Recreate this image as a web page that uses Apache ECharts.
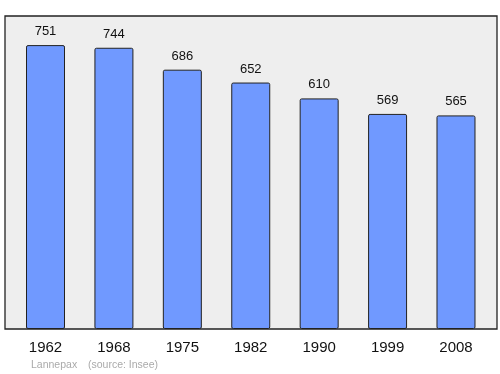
<!DOCTYPE html>
<html><head><meta charset="utf-8">
<script src="https://cdn.jsdelivr.net/npm/echarts@6/dist/echarts.min.js"></script>
<style>html,body{margin:0;padding:0;background:#fff}#c{width:500px;height:374px}</style>
</head><body><div id="c"></div>
<script>
var years = ['1962','1968','1975','1982','1990','1999','2008'];
var population = [751, 744, 686, 652, 610, 569, 565];
var footerPlace = 'Lannepax';
var footerSource = '(source: Insee)';

var chart = echarts.init(document.getElementById('c'), null, {renderer:'canvas'});
chart.setOption({
  animation: false,
  backgroundColor: '#ffffff',
  grid: [
    {left: 5, right: 3, top: 16, bottom: 45, show: true, backgroundColor: '#eeeeee', borderColor: '#222222', borderWidth: 1.3, z: 0},
    {left: 11.3, right: 9.8, top: 16, bottom: 45}
  ],
  xAxis: [
    {gridIndex: 0, type: 'value', show: false, min: 0, max: 1},
    {gridIndex: 1, type: 'category', data: years, axisLine: {show: false}, axisTick: {show: false},
     axisLabel: {fontSize: 15, color: '#111', margin: 11, fontFamily: 'Liberation Sans, Arial, sans-serif'}}
  ],
  yAxis: [
    {gridIndex: 0, type: 'value', show: false, min: 0, max: 1},
    {gridIndex: 1, type: 'value', min: 0, max: 828, show: false}
  ],
  series: [{
    type: 'bar', xAxisIndex: 1, yAxisIndex: 1, data: population, barWidth: '57%',
    itemStyle: {color: '#7099ff', borderColor: '#222', borderWidth: 1, borderRadius: 1.5},
    label: {show: true, position: 'top', distance: 7, fontSize: 13, color: '#111', fontFamily: 'Liberation Sans, Arial, sans-serif'}
  }],
  graphic: [
    {type: 'text', left: 31, top: 360, style: {text: footerPlace, fill: '#aaaaaa', fontSize: 10.5, fontFamily: 'Liberation Sans, Arial, sans-serif'}},
    {type: 'text', left: 88, top: 360, style: {text: footerSource, fill: '#aaaaaa', fontSize: 10.5, fontFamily: 'Liberation Sans, Arial, sans-serif'}}
  ]
});
</script></body></html>
